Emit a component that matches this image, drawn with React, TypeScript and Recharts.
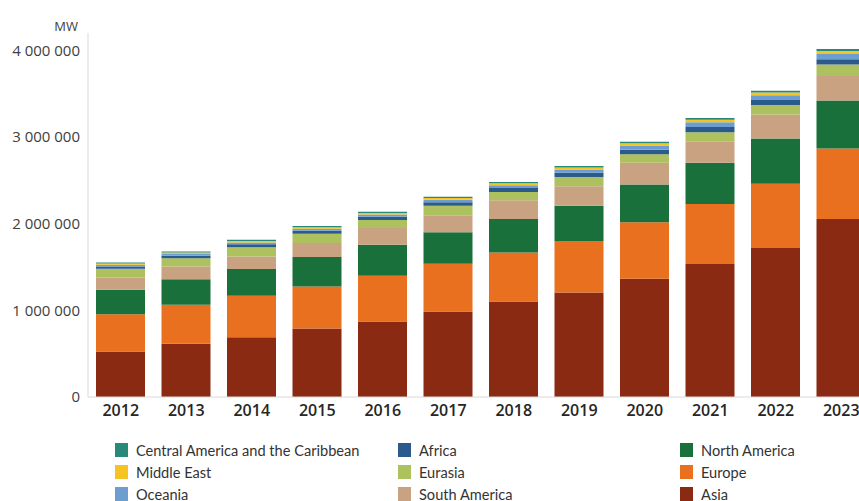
import React from 'react';
import { BarChart, Bar, XAxis, YAxis } from 'recharts';

const years = ['2012', '2013', '2014', '2015', '2016', '2017', '2018', '2019', '2020', '2021', '2022', '2023'];

// installed capacity by region, MW
const asia = [524000, 613000, 690000, 790000, 871000, 986000, 1102000, 1206000, 1364000, 1534000, 1719000, 2054000];
const europe = [432000, 451000, 478000, 485000, 528000, 552000, 566000, 589000, 651000, 694000, 743000, 813000];
const northAmerica = [281000, 296000, 308000, 340000, 358000, 362000, 386000, 413000, 436000, 474000, 521000, 555000];
const southAmerica = [142000, 147000, 146000, 162000, 193000, 192000, 216000, 223000, 251000, 243000, 277000, 281000];
const eurasia = [100000, 94000, 107000, 106000, 92000, 114000, 96000, 108000, 98000, 111000, 108000, 133000];
const africa = [28000, 30000, 33000, 35000, 38000, 42000, 46000, 48000, 54000, 58000, 58000, 62000];
const oceania = [18000, 20000, 22000, 23000, 25000, 28000, 32000, 38000, 48000, 55000, 56000, 60000];
const middleEast = [14000, 15000, 16000, 17000, 18000, 19000, 21000, 23000, 25000, 30000, 32000, 35000];
const centralAmerica = [12000, 13000, 14000, 15000, 15500, 16000, 17000, 18000, 19000, 19500, 20000, 21000];

const yTicks = [0, 1000000, 2000000, 3000000, 4000000];

const series = [
  { key: 'asia', name: 'Asia', color: '#8b2a12', values: asia },
  { key: 'europe', name: 'Europe', color: '#e9701e', values: europe },
  { key: 'northAmerica', name: 'North America', color: '#19703b', values: northAmerica },
  { key: 'southAmerica', name: 'South America', color: '#c9a281', values: southAmerica },
  { key: 'eurasia', name: 'Eurasia', color: '#adc25e', values: eurasia },
  { key: 'africa', name: 'Africa', color: '#2d5a8c', values: africa },
  { key: 'oceania', name: 'Oceania', color: '#6c9fd0', values: oceania },
  { key: 'middleEast', name: 'Middle East', color: '#f5c423', values: middleEast },
  { key: 'centralAmerica', name: 'Central America and the Caribbean', color: '#28887a', values: centralAmerica },
];

const data = years.map((year, i) => {
  const row: any = { year };
  series.forEach((s) => {
    row[s.key] = s.values[i];
  });
  return row;
});

// legend columns, top to bottom
const legendColumns = [
  ['centralAmerica', 'middleEast', 'oceania'],
  ['africa', 'eurasia', 'southAmerica'],
  ['northAmerica', 'europe', 'asia'],
];
const legendLeft = [115, 398, 680];

const fmt = (v: number) => String(v).replace(/\B(?=(\d{3})+(?!\d))/g, ' ');

const App = () => {
  return (
    <div
      style={{
        position: 'fixed',
        left: 0,
        top: 0,
        width: 859,
        height: 501,
        overflow: 'hidden',
        fontFamily: '"Open Sans", sans-serif',
        background: '#fff',
      }}
    >
      <div
        style={{
          position: 'absolute',
          left: 48,
          top: 17,
          width: 30,
          textAlign: 'right',
          fontSize: 13,
          color: '#404040',
        }}
      >
        MW
      </div>
      <div style={{ position: 'absolute', left: 8, top: 8 }}>
        <BarChart width={866} height={419} data={data} margin={{ top: 25, right: 0, left: 0, bottom: 0 }}>
          <XAxis
            dataKey="year"
            height={30}
            tickLine={false}
            axisLine={{ stroke: '#d9d9d9' }}
            tick={{ fill: '#262626', fontSize: 16, fontWeight: 600 }}
            interval={0}
          />
          <YAxis
            width={80}
            domain={[0, 4200000]}
            ticks={yTicks}
            tickLine={false}
            axisLine={{ stroke: '#d9d9d9' }}
            tickFormatter={fmt}
            tick={{ fill: '#404040', fontSize: 15 }}
          />
          {series.map((s) => (
            <Bar key={s.key} dataKey={s.key} name={s.name} stackId="a" fill={s.color} barSize={49} isAnimationActive={false} />
          ))}
        </BarChart>
      </div>
      {legendColumns.map((col, ci) =>
        col.map((key, ri) => {
          const s = series.find((x) => x.key === key)!;
          return (
            <div
              key={key}
              style={{
                position: 'absolute',
                left: legendLeft[ci],
                top: 439 + ri * 22,
                height: 22,
                display: 'flex',
                alignItems: 'center',
                fontFamily: 'Lato, sans-serif',
                fontSize: 14.6,
                color: '#333',
                whiteSpace: 'nowrap',
              }}
            >
              <span style={{ display: 'inline-block', width: 13, height: 14, background: s.color, marginRight: 8 }} />
              {s.name}
            </div>
          );
        })
      )}
    </div>
  );
};

export default App;
